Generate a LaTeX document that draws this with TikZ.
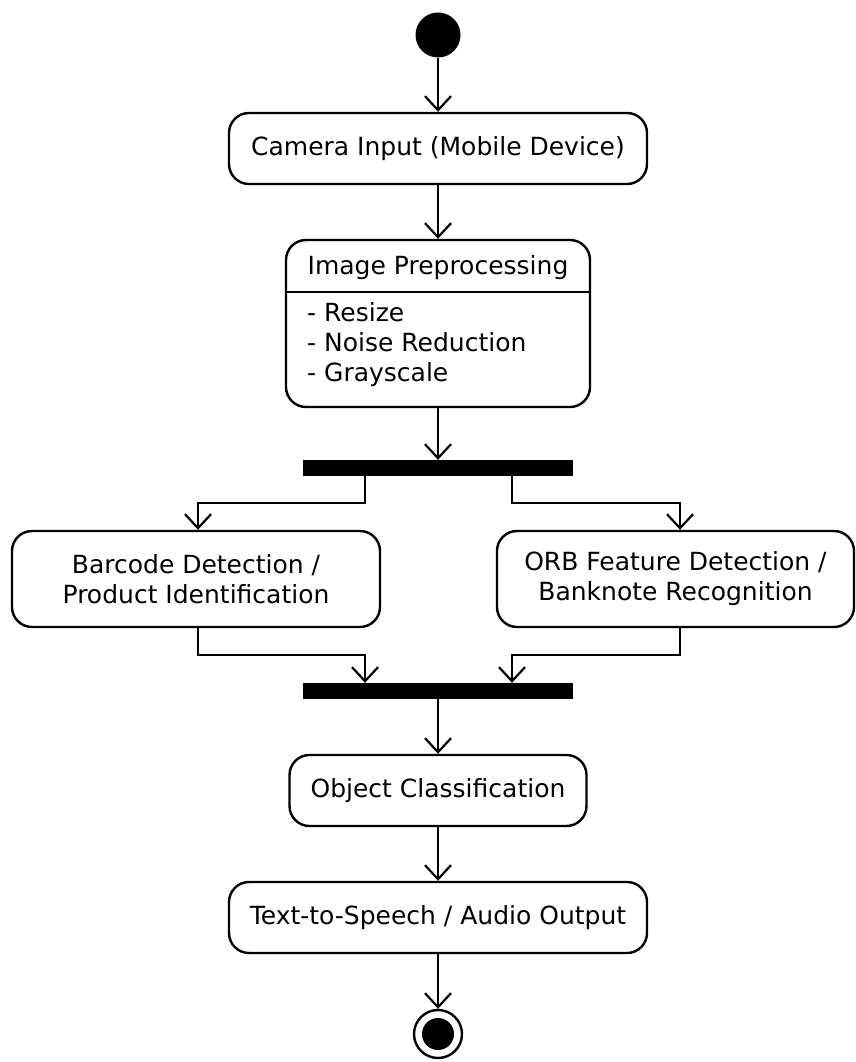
\documentclass[tikz,border=0pt]{standalone}
\usepackage{fontspec}
\setmainfont{DejaVu Sans}
\usetikzlibrary{arrows.meta,calc}
\begin{document}
\begin{tikzpicture}[x=1pt,y=-1pt,
  every node/.style={font=\fontsize{25}{30}\selectfont, inner sep=0pt},
  act/.style={draw, line width=2.4pt, rounded corners=20pt, align=center},
  bar/.style={fill=black, draw=none},
  flow/.style={line width=2.2pt, -{Straight Barb[length=14pt,width=26pt,line width=2.2pt]}},
  line/.style={line width=2.2pt}]
\useasboundingbox (0,0) rectangle (856,1062);

% start and end markers
\node[circle, fill=black, minimum size=45pt] (start) at (438,35) {};
\node[circle, draw, line width=2.4pt, minimum size=48pt] (stop) at (438,1034) {};
\node[circle, fill=black, minimum size=32pt] (stopdot) at (438,1034) {};

% actions
\node[act, minimum width=418pt, minimum height=71pt] (camera) at (438,148.5) {Camera Input (Mobile Device)};
\node[act, minimum width=304pt, minimum height=167pt] (img) at (438,323.5) {};
\node (imgtitle) at (438,268) {Image Preprocessing};
\node[anchor=west, align=left] (imgsteps) at (307,345) {- Resize\\- Noise Reduction\\- Grayscale};
\draw[line width=2.4pt] (img.west |- 0,292) -- (img.east |- 0,292);

\node[bar, minimum width=270pt, minimum height=16pt] (fork) at (438,468) {};
\node[act, minimum width=368pt, minimum height=96pt] (barcode) at (196,579) {Barcode Detection /\\Product Identification};
\node[act, minimum width=357pt, minimum height=96pt] (orb) at (675.5,579) {ORB Feature Detection /\\Banknote Recognition};
\node[bar, minimum width=270pt, minimum height=16pt] (join) at (438,691) {};

\node[act, minimum width=297pt, minimum height=71pt] (classify) at (438,790.5) {Object Classification};
\node[act, minimum width=418pt, minimum height=71pt] (tts) at (438,917.5) {Text-to-Speech / Audio Output};

% routing points
\coordinate (fl) at (365,503);
\coordinate (fr) at (512,503);
\coordinate (jl) at (365,655);
\coordinate (jr) at (512,655);

% connectors
\draw[flow] (start) -- (camera.north);
\draw[flow] (camera.south) -- (img.north);
\draw[flow] (img.south) -- (fork.north);
\draw[flow] (fork.south -| fl) -- (fl) -| (barcode.north -| 198,0);
\draw[flow] (fork.south -| fr) -- (fr) -| (orb.north -| 680,0);
\draw[flow] (barcode.south -| 198,0) |- (jl) -- (join.north -| jl);
\draw[flow] (orb.south -| 680,0) |- (jr) -- (join.north -| jr);
\draw[flow] (join.south) -- (classify.north);
\draw[flow] (classify.south) -- (tts.north);
\draw[flow] (tts.south) -- (stop.north);
\end{tikzpicture}
\end{document}
